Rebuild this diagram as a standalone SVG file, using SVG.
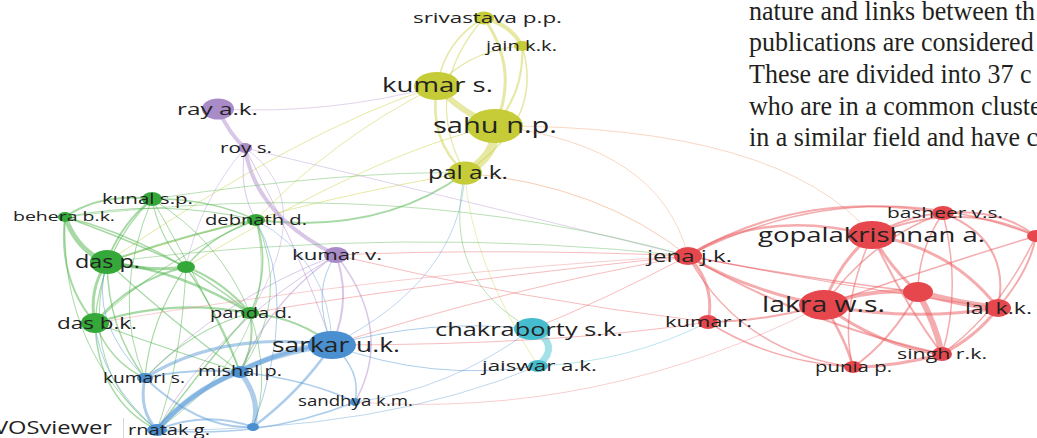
<svg xmlns="http://www.w3.org/2000/svg" width="1037" height="438" viewBox="0 0 1037 438">
<style>
.e{fill:none;stroke-linecap:round;opacity:0.5}
.ey{stroke:#cdd24a}.ep{stroke:#b390cf}.eg{stroke:#4fb34c}.eb{stroke:#5c9cd8}.ec{stroke:#4cc3d1}.er{stroke:#ea5a5d}.eo{stroke:#ef9a6a}
.y{fill:#c6cc38}.p{fill:#a98bc8}.g{fill:#35a83a}.b{fill:#4a8fd0}.c{fill:#45bdcf}.r{fill:#e5474d}
.lb{font-family:"Open Sans","Noto Sans",sans-serif;fill:#222}
.para{font-family:"Liberation Serif","Times New Roman",serif;font-size:28px;fill:#231f20}
</style>
<rect width="1037" height="438" fill="#ffffff"/>
<g id="paragraph" transform="translate(749,0) scale(0.93,1)">
<text class="para" x="0" y="20">nature and links between th</text>
<text class="para" x="0" y="51">publications are considered</text>
<text class="para" x="0" y="83">These are divided into 37 c</text>
<text class="para" x="0" y="115">who are in a common cluste</text>
<text class="para" x="0" y="146">in a similar field and have c</text>
</g>
<g id="connectors">
<path class="e ey" stroke-width="4" d="M484 18 Q510 24 522 46"/>
<path class="e ey" stroke-width="3" d="M484 18 Q520 70 495 126"/>
<path class="e ey" stroke-width="1.5" d="M484 18 Q445 40 437 86"/>
<path class="e ey" stroke-width="1.2" d="M484 18 Q420 90 465 173"/>
<path class="e ey" stroke-width="1.2" d="M522 46 Q470 50 437 86"/>
<path class="e ey" stroke-width="2" d="M522 46 Q525 90 495 126"/>
<path class="e ey" stroke-width="1.5" d="M522 46 Q545 120 465 173"/>
<path class="e ey" stroke-width="6" d="M437 86 Q460 112 495 126"/>
<path class="e ey" stroke-width="2.5" d="M437 86 Q428 140 465 173"/>
<path class="e ey" stroke-width="9" d="M495 126 Q497 156 465 173"/>
<path class="e ey" stroke-width="1" d="M437 86 Q300 130 107 262"/>
<path class="e ey" stroke-width="1" d="M437 86 Q330 140 256 220"/>
<path class="e eg" stroke-width="2" d="M465 173 Q380 235 256 220"/>
<path class="e ey" stroke-width="1" d="M465 173 Q300 200 107 262"/>
<path class="e ey" stroke-width="1" d="M495 126 Q380 150 186 267"/>
<path class="e eo" stroke-width="1" d="M465 173 Q600 185 688 256"/>
<path class="e eo" stroke-width="0.8" d="M495 126 Q660 145 688 256"/>
<path class="e eo" stroke-width="0.8" d="M495 126 Q780 125 872 235"/>
<path class="e eg" stroke-width="0.8" d="M465 173 Q440 280 532 329"/>
<path class="e eb" stroke-width="0.8" d="M465 173 Q460 280 332 345"/>
<path class="e ey" stroke-width="0.8" d="M465 173 Q470 260 538 366"/>
<path class="e ep" stroke-width="4" d="M218 109 Q230 135 245 148"/>
<path class="e ep" stroke-width="4" d="M245 148 Q255 215 336 255"/>
<path class="e ep" stroke-width="1" d="M245 148 Q300 250 332 345"/>
<path class="e ep" stroke-width="1" d="M245 148 Q238 190 256 220"/>
<path class="e ep" stroke-width="0.8" d="M245 148 Q420 190 688 256"/>
<path class="e ep" stroke-width="0.8" d="M218 109 Q330 115 437 86"/>
<path class="e ep" stroke-width="0.8" d="M245 148 Q200 200 186 267"/>
<path class="e ep" stroke-width="0.8" d="M245 148 Q320 200 250 313"/>
<path class="e ep" stroke-width="2" d="M336 255 Q352 300 332 345"/>
<path class="e ep" stroke-width="1.5" d="M336 255 Q270 300 240 372"/>
<path class="e ep" stroke-width="1" d="M336 255 Q210 330 157 430"/>
<path class="e ep" stroke-width="1.5" d="M336 255 Q395 330 355 402"/>
<path class="e ep" stroke-width="1" d="M336 255 Q220 300 145 378"/>
<path class="e eg" stroke-width="5" d="M65 217 Q78 252 107 262"/>
<path class="e eg" stroke-width="2" d="M65 217 Q100 193 152 199"/>
<path class="e eg" stroke-width="2" d="M65 217 Q58 280 95 323"/>
<path class="e eg" stroke-width="1.5" d="M65 217 Q130 240 186 267"/>
<path class="e eg" stroke-width="1" d="M65 217 Q160 198 256 220"/>
<path class="e eg" stroke-width="1.5" d="M65 217 Q160 240 250 313"/>
<path class="e eg" stroke-width="1" d="M65 217 Q60 350 157 430"/>
<path class="e eg" stroke-width="2" d="M152 199 Q120 225 107 262"/>
<path class="e eg" stroke-width="1.5" d="M152 199 Q210 198 256 220"/>
<path class="e eg" stroke-width="1.2" d="M152 199 Q100 250 95 323"/>
<path class="e eg" stroke-width="1.2" d="M152 199 Q160 240 186 267"/>
<path class="e eg" stroke-width="1" d="M152 199 Q220 240 250 313"/>
<path class="e eg" stroke-width="1" d="M152 199 Q110 300 145 378"/>
<path class="e eg" stroke-width="1" d="M152 199 Q210 300 240 372"/>
<path class="e eg" stroke-width="2" d="M256 220 Q180 236 107 262"/>
<path class="e eg" stroke-width="1.5" d="M256 220 Q210 236 186 267"/>
<path class="e eg" stroke-width="1.5" d="M256 220 Q272 270 250 313"/>
<path class="e eg" stroke-width="1" d="M256 220 Q160 260 95 323"/>
<path class="e eg" stroke-width="1" d="M256 220 Q292 300 240 372"/>
<path class="e eg" stroke-width="0.8" d="M256 220 Q285 340 157 430"/>
<path class="e eg" stroke-width="3" d="M107 262 Q150 272 186 267"/>
<path class="e eg" stroke-width="3" d="M107 262 Q88 290 95 323"/>
<path class="e eg" stroke-width="2.5" d="M107 262 Q180 270 250 313"/>
<path class="e eg" stroke-width="1.5" d="M107 262 Q108 330 145 378"/>
<path class="e eg" stroke-width="1.2" d="M107 262 Q170 320 240 372"/>
<path class="e eg" stroke-width="1" d="M107 262 Q78 370 157 430"/>
<path class="e eg" stroke-width="2" d="M186 267 Q222 280 250 313"/>
<path class="e eg" stroke-width="2" d="M186 267 Q130 280 95 323"/>
<path class="e eg" stroke-width="1.2" d="M186 267 Q150 320 145 378"/>
<path class="e eg" stroke-width="1.5" d="M186 267 Q222 320 240 372"/>
<path class="e eg" stroke-width="1" d="M186 267 Q182 360 157 430"/>
<path class="e eg" stroke-width="2" d="M95 323 Q170 298 250 313"/>
<path class="e eg" stroke-width="1.5" d="M95 323 Q110 362 145 378"/>
<path class="e eg" stroke-width="1.2" d="M95 323 Q170 350 240 372"/>
<path class="e eg" stroke-width="1.5" d="M95 323 Q98 400 157 430"/>
<path class="e eg" stroke-width="2" d="M250 313 Q256 345 240 372"/>
<path class="e eg" stroke-width="2" d="M250 313 Q300 318 332 345"/>
<path class="e eg" stroke-width="1.2" d="M250 313 Q190 330 145 378"/>
<path class="e eg" stroke-width="1.5" d="M250 313 Q200 370 157 430"/>
<path class="e eg" stroke-width="1" d="M250 313 Q272 380 253 427"/>
<path class="e eg" stroke-width="0.8" d="M107 262 Q400 225 688 256"/>
<path class="e eg" stroke-width="0.8" d="M65 217 Q400 175 688 256"/>
<path class="e eg" stroke-width="0.8" d="M152 199 Q350 170 465 173"/>
<path class="e eb" stroke-width="5" d="M332 345 Q290 345 240 372"/>
<path class="e eb" stroke-width="5" d="M332 345 Q220 360 157 430"/>
<path class="e eb" stroke-width="3" d="M332 345 Q220 330 145 378"/>
<path class="e eb" stroke-width="1.5" d="M332 345 Q362 370 355 402"/>
<path class="e eb" stroke-width="2.5" d="M332 345 Q300 392 253 427"/>
<path class="e eb" stroke-width="5" d="M240 372 Q190 390 157 430"/>
<path class="e eb" stroke-width="2" d="M240 372 Q190 368 145 378"/>
<path class="e eb" stroke-width="5" d="M240 372 Q262 400 253 427"/>
<path class="e eb" stroke-width="3" d="M145 378 Q138 410 157 430"/>
<path class="e eb" stroke-width="2" d="M157 430 Q205 410 253 427"/>
<path class="e eb" stroke-width="1.5" d="M157 430 Q260 440 355 402"/>
<path class="e eb" stroke-width="1.5" d="M240 372 Q310 380 355 402"/>
<path class="e eb" stroke-width="2" d="M145 378 Q200 430 253 427"/>
<path class="e eb" stroke-width="1" d="M332 345 Q430 318 532 329"/>
<path class="e eb" stroke-width="1" d="M332 345 Q430 382 538 366"/>
<path class="e eb" stroke-width="0.8" d="M157 430 Q380 432 538 366"/>
<path class="e eb" stroke-width="1" d="M145 378 Q88 320 107 262"/>
<path class="e eb" stroke-width="1" d="M332 345 Q310 290 336 255"/>
<path class="e eb" stroke-width="0.8" d="M332 345 Q330 260 256 220"/>
<path class="e eb" stroke-width="1" d="M157 430 Q100 380 95 323"/>
<path class="e eb" stroke-width="1" d="M253 427 Q300 300 256 220"/>
<path class="e eb" stroke-width="0.8" d="M355 402 Q450 390 532 329"/>
<path class="e ec" stroke-width="7" d="M532 329 Q562 345 538 366"/>
<path class="e ec" stroke-width="0.8" d="M538 366 Q630 362 708 322"/>
<path class="e er" stroke-width="2.5" d="M688 256 Q760 208 872 235"/>
<path class="e er" stroke-width="2" d="M688 256 Q800 188 943 213"/>
<path class="e er" stroke-width="1.5" d="M688 256 Q860 168 1036 236"/>
<path class="e er" stroke-width="3" d="M688 256 Q750 292 824 305"/>
<path class="e er" stroke-width="3" d="M688 256 Q716 285 708 322"/>
<path class="e er" stroke-width="1.5" d="M688 256 Q740 352 853 367"/>
<path class="e er" stroke-width="1.5" d="M688 256 Q800 278 918 292"/>
<path class="e er" stroke-width="2" d="M688 256 Q800 322 942 354"/>
<path class="e er" stroke-width="1" d="M688 256 Q850 288 998 308"/>
<path class="e er" stroke-width="2" d="M872 235 Q910 215 943 213"/>
<path class="e er" stroke-width="3" d="M872 235 Q838 262 824 305"/>
<path class="e er" stroke-width="3" d="M872 235 Q892 270 918 292"/>
<path class="e er" stroke-width="3" d="M872 235 Q952 248 998 308"/>
<path class="e er" stroke-width="2" d="M872 235 Q902 300 942 354"/>
<path class="e er" stroke-width="1.5" d="M872 235 Q838 312 853 367"/>
<path class="e er" stroke-width="2" d="M872 235 Q960 198 1036 236"/>
<path class="e er" stroke-width="2" d="M943 213 Q1000 208 1036 236"/>
<path class="e er" stroke-width="1.5" d="M943 213 Q870 240 824 305"/>
<path class="e er" stroke-width="2" d="M943 213 Q1012 240 998 308"/>
<path class="e er" stroke-width="1.5" d="M943 213 Q918 250 918 292"/>
<path class="e er" stroke-width="1.5" d="M943 213 Q962 290 942 354"/>
<path class="e er" stroke-width="4" d="M824 305 Q870 288 918 292"/>
<path class="e er" stroke-width="3" d="M824 305 Q910 322 998 308"/>
<path class="e er" stroke-width="3" d="M824 305 Q880 347 942 354"/>
<path class="e er" stroke-width="2.5" d="M824 305 Q846 340 853 367"/>
<path class="e er" stroke-width="2" d="M824 305 Q760 322 708 322"/>
<path class="e er" stroke-width="6" d="M918 292 Q960 304 998 308"/>
<path class="e er" stroke-width="6" d="M918 292 Q936 325 942 354"/>
<path class="e er" stroke-width="2" d="M918 292 Q890 342 853 367"/>
<path class="e er" stroke-width="3" d="M998 308 Q976 337 942 354"/>
<path class="e er" stroke-width="2" d="M998 308 Q1030 270 1036 236"/>
<path class="e er" stroke-width="3" d="M942 354 Q895 367 853 367"/>
<path class="e er" stroke-width="1.5" d="M1036 236 Q930 268 824 305"/>
<path class="e er" stroke-width="1.5" d="M1036 236 Q1000 312 942 354"/>
<path class="e er" stroke-width="1.5" d="M708 322 Q770 362 853 367"/>
<path class="e er" stroke-width="0.8" d="M688 256 Q500 290 332 345"/>
<path class="e er" stroke-width="0.8" d="M688 256 Q500 248 336 255"/>
<path class="e er" stroke-width="0.6" d="M688 256 Q400 272 95 323"/>
<path class="e er" stroke-width="0.8" d="M688 256 Q450 280 250 313"/>
<path class="e er" stroke-width="0.8" d="M688 256 Q600 302 532 329"/>
<path class="e er" stroke-width="0.8" d="M708 322 Q520 300 336 255"/>
<path class="e er" stroke-width="0.8" d="M708 322 Q560 345 332 345"/>
<path class="e er" stroke-width="0.6" d="M824 305 Q600 420 355 402"/>
</g>
<g id="n-srivastava"><ellipse class="y" cx="484" cy="18" rx="10" ry="6.5"/><text class="lb" x="413" y="23" font-size="15" textLength="149" lengthAdjust="spacingAndGlyphs">srivastava p.p.</text></g>
<g id="n-jain"><ellipse class="y" cx="522" cy="46" rx="8" ry="5"/><text class="lb" x="486" y="51" font-size="14" textLength="71" lengthAdjust="spacingAndGlyphs">jain k.k.</text></g>
<g id="n-kumar-s"><ellipse class="y" cx="437" cy="86" rx="23" ry="14"/><text class="lb" x="382" y="92" font-size="20" textLength="111" lengthAdjust="spacingAndGlyphs">kumar s.</text></g>
<g id="n-sahu"><ellipse class="y" cx="495" cy="126" rx="28" ry="17"/><text class="lb" x="433" y="133" font-size="21" textLength="124" lengthAdjust="spacingAndGlyphs">sahu n.p.</text></g>
<g id="n-pal"><ellipse class="y" cx="465" cy="173" rx="17" ry="11.5"/><text class="lb" x="428" y="179" font-size="18" textLength="80" lengthAdjust="spacingAndGlyphs">pal a.k.</text></g>
<g id="n-ray"><ellipse class="p" cx="218" cy="109" rx="16" ry="10.5"/><text class="lb" x="177" y="115" font-size="17" textLength="81" lengthAdjust="spacingAndGlyphs">ray a.k.</text></g>
<g id="n-roy"><ellipse class="p" cx="245" cy="148" rx="7" ry="5"/><text class="lb" x="220" y="153" font-size="14" textLength="52" lengthAdjust="spacingAndGlyphs">roy s.</text></g>
<g id="n-kumar-v"><ellipse class="p" cx="336" cy="255" rx="12" ry="8"/><text class="lb" x="292" y="260" font-size="14" textLength="90" lengthAdjust="spacingAndGlyphs">kumar v.</text></g>
<g id="n-kunal"><ellipse class="g" cx="152" cy="199" rx="10" ry="7"/><text class="lb" x="102" y="204" font-size="14" textLength="91" lengthAdjust="spacingAndGlyphs">kunal s.p.</text></g>
<g id="n-behera"><ellipse class="g" cx="65" cy="217" rx="7" ry="5"/><text class="lb" x="13" y="221" font-size="13" textLength="102" lengthAdjust="spacingAndGlyphs">behera b.k.</text></g>
<g id="n-debnath"><ellipse class="g" cx="256" cy="220" rx="9" ry="6"/><text class="lb" x="205" y="225" font-size="14" textLength="102" lengthAdjust="spacingAndGlyphs">debnath d.</text></g>
<g id="n-das-p"><ellipse class="g" cx="107" cy="262" rx="17" ry="12"/><text class="lb" x="75" y="268" font-size="18" textLength="65" lengthAdjust="spacingAndGlyphs">das p.</text></g>
<g id="n-green-unlabeled"><ellipse class="g" cx="186" cy="267" rx="9" ry="6"/></g>
<g id="n-das-bk"><ellipse class="g" cx="95" cy="323" rx="14" ry="10"/><text class="lb" x="57" y="329" font-size="17" textLength="80" lengthAdjust="spacingAndGlyphs">das b.k.</text></g>
<g id="n-panda"><ellipse class="g" cx="250" cy="313" rx="9" ry="6"/><text class="lb" x="210" y="318" font-size="14" textLength="82" lengthAdjust="spacingAndGlyphs">panda d.</text></g>
<g id="n-sarkar"><ellipse class="b" cx="332" cy="345" rx="24" ry="14"/><text class="lb" x="272" y="352" font-size="20" textLength="128" lengthAdjust="spacingAndGlyphs">sarkar u.k.</text></g>
<g id="n-kumari"><ellipse class="b" cx="145" cy="378" rx="8" ry="5"/><text class="lb" x="103" y="383" font-size="14" textLength="82" lengthAdjust="spacingAndGlyphs">kumari s.</text></g>
<g id="n-mishal"><ellipse class="b" cx="240" cy="372" rx="9" ry="6"/><text class="lb" x="198" y="376" font-size="15" textLength="84" lengthAdjust="spacingAndGlyphs">mishal p.</text></g>
<g id="n-sandhya"><ellipse class="b" cx="355" cy="402" rx="5" ry="4"/><text class="lb" x="298" y="406" font-size="14" textLength="115" lengthAdjust="spacingAndGlyphs">sandhya k.m.</text></g>
<g id="n-blue-unlabeled"><ellipse class="b" cx="253" cy="427" rx="6" ry="4"/></g>
<g id="n-karnatak"><ellipse class="b" cx="157" cy="430" rx="10" ry="6"/><text class="lb" x="128" y="435" font-size="15" textLength="82" lengthAdjust="spacingAndGlyphs">rnatak g.</text></g>
<g id="vosviewer"><rect x="-1" y="414" width="124" height="25" fill="#ffffff"/><line x1="123.5" y1="418" x2="123.5" y2="438" stroke="#d8d8d8" stroke-width="1"/><text class="lb" x="-6" y="434" font-size="18" textLength="118" lengthAdjust="spacingAndGlyphs">VOSviewer</text></g>
<g id="n-chakraborty"><ellipse class="c" cx="532" cy="329" rx="18" ry="11"/><text class="lb" x="435" y="336" font-size="18" textLength="188" lengthAdjust="spacingAndGlyphs">chakraborty s.k.</text></g>
<g id="n-jaiswar"><ellipse class="c" cx="538" cy="366" rx="10" ry="6"/><text class="lb" x="482" y="371" font-size="15" textLength="115" lengthAdjust="spacingAndGlyphs">jaiswar a.k.</text></g>
<g id="n-jena"><ellipse class="r" cx="688" cy="256" rx="14" ry="9"/><text class="lb" x="647" y="262" font-size="16" textLength="85" lengthAdjust="spacingAndGlyphs">jena j.k.</text></g>
<g id="n-gopalakrishnan"><ellipse class="r" cx="872" cy="235" rx="24" ry="14"/><text class="lb" x="758" y="242" font-size="20" textLength="227" lengthAdjust="spacingAndGlyphs">gopalakrishnan a.</text></g>
<g id="n-basheer"><ellipse class="r" cx="943" cy="213" rx="11" ry="7"/><text class="lb" x="887" y="218" font-size="14" textLength="116" lengthAdjust="spacingAndGlyphs">basheer v.s.</text></g>
<g id="n-edge"><ellipse class="r" cx="1036" cy="236" rx="9" ry="6"/></g>
<g id="n-lakra"><ellipse class="r" cx="824" cy="305" rx="25" ry="15"/><text class="lb" x="762" y="312" font-size="21" textLength="123" lengthAdjust="spacingAndGlyphs">lakra w.s.</text></g>
<g id="n-red-unlabeled"><ellipse class="r" cx="918" cy="292" rx="15" ry="10"/></g>
<g id="n-lal"><ellipse class="r" cx="998" cy="308" rx="13" ry="9"/><text class="lb" x="965" y="314" font-size="17" textLength="67" lengthAdjust="spacingAndGlyphs">lal k.k.</text></g>
<g id="n-kumar-r"><ellipse class="r" cx="708" cy="322" rx="10" ry="7"/><text class="lb" x="665" y="327" font-size="14" textLength="87" lengthAdjust="spacingAndGlyphs">kumar r.</text></g>
<g id="n-singh"><ellipse class="r" cx="942" cy="354" rx="10" ry="7"/><text class="lb" x="897" y="359" font-size="14" textLength="90" lengthAdjust="spacingAndGlyphs">singh r.k.</text></g>
<g id="n-punia"><ellipse class="r" cx="853" cy="367" rx="9" ry="6"/><text class="lb" x="815" y="372" font-size="14" textLength="77" lengthAdjust="spacingAndGlyphs">punia p.</text></g>
</svg>
